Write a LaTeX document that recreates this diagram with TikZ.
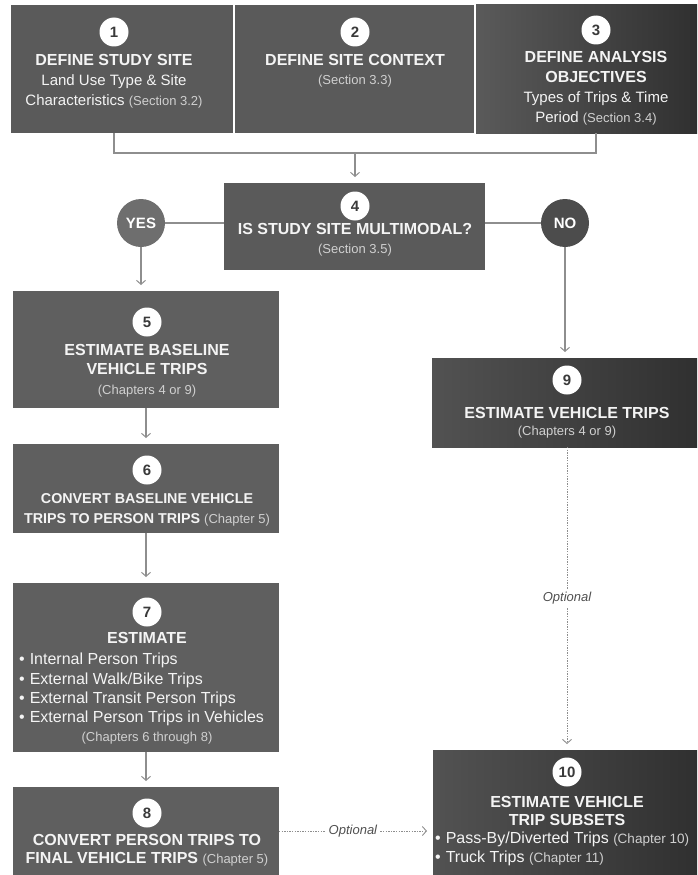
\documentclass[tikz,border=0pt]{standalone}
\usepackage{fontspec}
\setmainfont{Liberation Sans}
\usetikzlibrary{arrows.meta}
\definecolor{boxgray}{HTML}{5A5A5A}
\definecolor{boxmid}{HTML}{5F5F5F}
\definecolor{boxdark}{HTML}{303030}
\definecolor{boxdl}{HTML}{525252}
\definecolor{txtw}{HTML}{F4F4F4}
\definecolor{txtp}{HTML}{D0D0D0}
\definecolor{linegray}{HTML}{8E8E8E}
\definecolor{numgray}{HTML}{3A3A3A}
\definecolor{yesgray}{HTML}{6E6E6E}
\definecolor{nogray}{HTML}{4C4C4C}
\definecolor{optgray}{HTML}{505050}
\tikzset{
  box/.style={rectangle, inner sep=0pt, outer sep=0pt, fill=boxgray},
  boxlow/.style={rectangle, inner sep=0pt, outer sep=0pt, fill=boxmid},
  boxgrad/.style={rectangle, inner sep=0pt, outer sep=0pt, left color=boxgray, right color=boxdark},
  boxgradd/.style={rectangle, inner sep=0pt, outer sep=0pt, left color=boxdl, right color=boxdark},
  num/.style={circle, fill=white, minimum size=29pt, inner sep=0pt, text=numgray, font=\fontsize{15}{15}\selectfont\bfseries},
  ttl/.style={anchor=base, inner sep=0pt, text=txtw, font=\fontsize{16}{16}\selectfont\bfseries},
  ttls/.style={ttl, font=\fontsize{14.3}{14.3}\selectfont\bfseries},
  reg/.style={anchor=base, inner sep=0pt, text=txtw, font=\fontsize{15}{15}\selectfont},
  bul/.style={anchor=base west, inner sep=0pt, text=txtw, font=\fontsize{16}{16}\selectfont},
  par/.style={anchor=base, inner sep=0pt, text=txtp, font=\fontsize{13}{13}\selectfont},
  conn/.style={draw=linegray, line width=1.1pt},
  arr/.style={conn, -{Straight Barb[length=4pt, width=9pt, line width=1pt]}, shorten >=6pt},
  dots/.style={draw=linegray, line width=0.9pt, dash pattern=on 1.4pt off 1.2pt},
  darr/.style={dots, -{Straight Barb[length=4pt, width=9pt, line width=0.9pt]}, shorten >=6pt},
  yn/.style={circle, minimum size=48pt, inner sep=0pt, text=white, font=\fontsize{15}{15}\selectfont\bfseries},
  opt/.style={fill=white, inner sep=3pt, text=optgray, font=\fontsize{13}{13}\selectfont\itshape},
}
\newcommand{\pt}[1]{{\color{txtp}\fontsize{13}{13}\selectfont\mdseries #1}}
\newcommand{\ptb}[1]{{\color{txtp}\fontsize{13.5}{13.5}\selectfont\mdseries #1}}
\newcommand{\bl}{\textbullet\hspace{5pt}}
\begin{document}
\begin{tikzpicture}[x=1pt,y=-1pt]
\useasboundingbox (0,0) rectangle (697,875);
% ---- top row
\node[box, minimum width=222pt, minimum height=128pt] (b1) at (122,69) {};
\node[box, minimum width=239pt, minimum height=128pt] (b2) at (354.5,69) {};
\node[boxgrad, minimum width=221pt, minimum height=128pt] (b3) at (586.5,69) {};
\node[num] (n1) at (114,32) {1};
\node[ttl] (t1a) at (114,65.7) {DEFINE STUDY SITE};
\node[reg] (t1b) at (114,85.4) {Land Use Type \& Site};
\node[reg] (t1c) at (114,105.4) {Characteristics \pt{(Section 3.2)}};
\node[num] (n2) at (355,32) {2};
\node[ttl] (t2a) at (355,65.7) {DEFINE SITE CONTEXT};
\node[par] (t2b) at (355,84.7) {(Section 3.3)};
\node[num] (n3) at (596,30) {3};
\node[ttl] (t3a) at (596,62.7) {DEFINE ANALYSIS};
\node[ttl] (t3b) at (596,82.7) {OBJECTIVES};
\node[reg] (t3c) at (596,102.4) {Types of Trips \& Time};
\node[reg] (t3d) at (596,122.4) {Period \pt{(Section 3.4)}};
% ---- decision
\node[box, minimum width=261pt, minimum height=87pt] (b4) at (354.5,226.5) {};
\node[num] (n4) at (355,206) {4};
\node[ttl] (t4a) at (355,234.7) {IS STUDY SITE MULTIMODAL?};
\node[par] (t4b) at (355,253.7) {(Section 3.5)};
\node[yn, fill=yesgray] (yes) at (141,223) {YES};
\node[yn, fill=nogray] (no) at (565,223) {NO};
% ---- left column
\node[boxlow, minimum width=266pt, minimum height=117pt] (b5) at (146,349.5) {};
\node[num] (n5) at (147,322) {5};
\node[ttl] (t5a) at (147,355.7) {ESTIMATE BASELINE};
\node[ttl] (t5b) at (147,374.7) {VEHICLE TRIPS};
\node[par] (t5c) at (147,394.7) {(Chapters 4 or 9)};
\node[boxlow, minimum width=266pt, minimum height=89pt] (b6) at (146,488.5) {};
\node[num] (n6) at (147,470) {6};
\node[ttls] (t6a) at (147,503.3) {CONVERT BASELINE VEHICLE};
\node[ttls] (t6b) at (147,523.3) {TRIPS TO PERSON TRIPS \pt{(Chapter 5)}};
\node[boxlow, minimum width=266pt, minimum height=169pt] (b7) at (146,667.5) {};
\node[num] (n7) at (147,612) {7};
\node[ttl] (t7a) at (147,643.7) {ESTIMATE};
\node[bul] (t7b) at (19,664.7) {\bl Internal Person Trips};
\node[bul] (t7c) at (19,684.7) {\bl External Walk/Bike Trips};
\node[bul] (t7d) at (19,703.7) {\bl External Transit Person Trips};
\node[bul] (t7e) at (19,722.7) {\bl External Person Trips in Vehicles};
\node[par] (t7f) at (147,741.7) {(Chapters 6 through 8)};
\node[boxlow, minimum width=266pt, minimum height=88pt] (b8) at (146,831) {};
\node[num] (n8) at (147,813) {8};
\node[ttl] (t8a) at (147,845.7) {CONVERT PERSON TRIPS TO};
\node[ttl] (t8b) at (147,863.7) {FINAL VEHICLE TRIPS \pt{(Chapter 5)}};
% ---- right column
\node[boxgradd, minimum width=265pt, minimum height=89pt] (b9) at (564.5,402.5) {};
\node[num] (n9) at (567,380) {9};
\node[ttl] (t9a) at (567,418.7) {ESTIMATE VEHICLE TRIPS};
\node[par] (t9b) at (567,435.7) {(Chapters 4 or 9)};
\node[boxgradd, minimum width=264pt, minimum height=125pt] (b10) at (565,812.5) {};
\node[num] (n10) at (567,772) {10};
\node[ttl] (t10a) at (567,807.7) {ESTIMATE VEHICLE};
\node[ttl] (t10b) at (567,825.7) {TRIP SUBSETS};
\node[bul] (t10c) at (435,843.7) {\bl Pass-By/Diverted Trips \ptb{(Chapter 10)}};
\node[bul] (t10d) at (435,862.7) {\bl Truck Trips \ptb{(Chapter 11)}};
% ---- connectors
\coordinate (j) at (355,153);
\coordinate (oy) at (0,831);
\draw[conn] (n1 |- b1.south) |- (j) -| (n3 |- b3.south);
\draw[arr] (j) -- (j |- b4.north);
\draw[conn] (yes) -- (yes -| b4.west);
\draw[conn] (no -| b4.east) -- (no);
\draw[arr] (yes) -- (yes |- b5.north);
\draw[arr] (no) -- (no |- b9.north);
\draw[arr] (b5.south) -- (b6.north);
\draw[arr] (b6.south) -- (b7.north);
\draw[arr] (b7.south) -- (b8.north);
\draw[darr] (n9 |- b9.south) -- node[opt] (o1) {Optional} (n9 |- b10.north);
\draw[darr] (b8.east |- oy) -- node[opt, pos=0.48] (o2) {Optional} (b10.west |- oy);
\end{tikzpicture}
\end{document}
